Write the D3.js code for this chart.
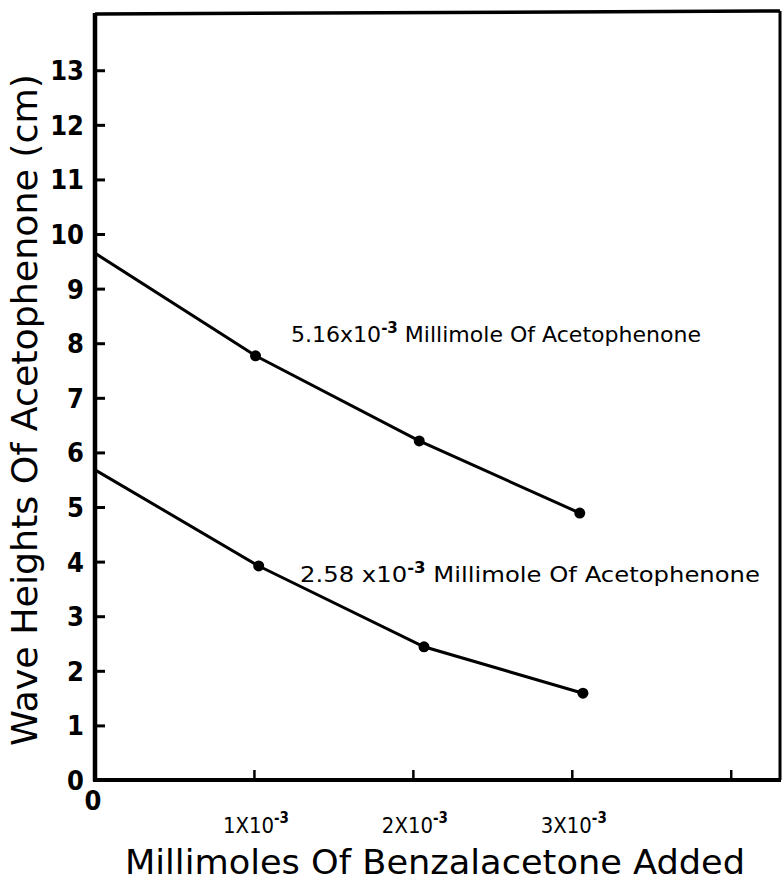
<!DOCTYPE html>
<html>
<head>
<meta charset="utf-8">
<script src="https://cdnjs.cloudflare.com/ajax/libs/d3/7.8.5/d3.min.js"></script>
<style>
  body { margin: 0; background: #fff; }
  svg { display: block; }
  text { font-family: "DejaVu Sans", sans-serif; fill: #000; }
</style>
</head>
<body>
<div id="chart"></div>
<script>
// Data (x in units of 10^-3 millimole benzalacetone, y in cm)
var upperX = [0, 1.01, 2.04, 3.05];
var upperY = [9.65, 7.77, 6.21, 4.89];
var lowerX = [0, 1.03, 2.07, 3.07];
var lowerY = [5.68, 3.92, 2.44, 1.59];

var yTicks = [0, 1, 2, 3, 4, 5, 6, 7, 8, 9, 10, 11, 12, 13];
var xTicks = [1, 2, 3, 4];
var xTickLabels = ['1X10', '2X10', '3X10'];

var upperLabel = ['5.16x10', '-3', ' Millimole Of Acetophenone'];
var lowerLabel = ['2.58 x10', '-3', ' Millimole Of Acetophenone'];

// Size
var width = 784;
var height = 882;
var plotLeft = 95, plotRight = 780, plotTop = 14, plotBottom = 780;

var svg = d3.select('#chart')
  .append('svg')
  .attr('width', width)
  .attr('height', height);

// Scales
var xScale = d3.scaleLinear().domain([0, 4.31]).range([plotLeft, plotRight]);
var yScale = d3.scaleLinear().domain([0, 14.03]).range([plotBottom, plotTop]);

// Frame
svg.append('line').attr('x1', plotLeft).attr('y1', plotTop).attr('x2', plotRight).attr('y2', plotTop - 3)
  .attr('stroke', '#000').attr('stroke-width', 3.5);
svg.append('line').attr('x1', plotRight).attr('y1', plotTop - 3).attr('x2', plotRight).attr('y2', plotBottom)
  .attr('stroke', '#000').attr('stroke-width', 3);
svg.append('line').attr('x1', plotLeft).attr('y1', plotTop - 1).attr('x2', plotLeft).attr('y2', plotBottom + 1)
  .attr('stroke', '#000').attr('stroke-width', 4.5);
svg.append('line').attr('x1', plotLeft - 2).attr('y1', plotBottom).attr('x2', plotRight + 1).attr('y2', plotBottom)
  .attr('stroke', '#000').attr('stroke-width', 4);

// Y ticks (inward) and labels
var yAxis = d3.axisRight(yScale)
  .tickValues(yTicks.slice(1))
  .tickSize(10)
  .tickFormat('');

svg.append('g')
  .attr('id', 'y-axis')
  .attr('transform', `translate(${plotLeft}, 0)`)
  .call(yAxis)
  .call((g) => g.select('.domain').remove())
  .call((g) => g.selectAll('.tick line').attr('stroke', '#000').attr('stroke-width', 3));

svg.selectAll('.ylabel')
  .data(yTicks)
  .enter().append('text')
  .attr('class', 'ylabel')
  .attr('x', 84)
  .attr('y', (d) => yScale(d) + 10)
  .attr('text-anchor', 'end')
  .style('font-size', '27px')
  .style('font-weight', 'bold')
  .style('font-family', '"DejaVu Sans Condensed", "DejaVu Sans", sans-serif')
  .text((d) => d);

// X ticks (inward) and labels
var xAxis = d3.axisTop(xScale)
  .tickValues(xTicks)
  .tickSize(10)
  .tickFormat('');

svg.append('g')
  .attr('id', 'x-axis')
  .attr('transform', `translate(0, ${plotBottom})`)
  .call(xAxis)
  .call((g) => g.select('.domain').remove())
  .call((g) => g.selectAll('.tick line').attr('stroke', '#000').attr('stroke-width', 2.5));

svg.append('text')
  .attr('x', xScale(0) - 2)
  .attr('y', 810)
  .attr('text-anchor', 'middle')
  .style('font-size', '27px')
  .style('font-weight', 'bold')
  .style('font-family', '"DejaVu Sans Condensed", "DejaVu Sans", sans-serif')
  .text('0');

var xl = svg.selectAll('.xlabel')
  .data(xTickLabels)
  .enter().append('text')
  .attr('class', 'xlabel')
  .attr('x', (d, i) => xScale(xTicks[i]) + 2)
  .attr('y', 833)
  .attr('text-anchor', 'middle')
  .attr('textLength', 66)
  .attr('lengthAdjust', 'spacingAndGlyphs')
  .style('font-size', '22px')
  .style('font-family', '"DejaVu Sans Condensed", "DejaVu Sans", sans-serif');
xl.append('tspan').text((d) => d);
xl.append('tspan').attr('dy', -10).style('font-size', '15px').style('font-weight', 'bold').text('-3');

// Axis titles
svg.append('text')
  .attr('transform', 'translate(37, 410) rotate(-90)')
  .attr('text-anchor', 'middle')
  .attr('textLength', 672)
  .attr('lengthAdjust', 'spacingAndGlyphs')
  .style('font-size', '35px')
  .text('Wave Heights Of Acetophenone (cm)');

svg.append('text')
  .attr('x', 435)
  .attr('y', 874)
  .attr('text-anchor', 'middle')
  .attr('textLength', 620)
  .attr('lengthAdjust', 'spacingAndGlyphs')
  .style('font-size', '33px')
  .text('Millimoles Of Benzalacetone Added');

// Lines and dots
var line = d3.line()
  .x((d) => xScale(d[0]))
  .y((d) => yScale(d[1]));

var series = [d3.zip(upperX, upperY), d3.zip(lowerX, lowerY)];

svg.selectAll('.series')
  .data(series)
  .enter().append('path')
  .attr('class', 'series')
  .attr('d', line)
  .attr('fill', 'none')
  .attr('stroke', '#000')
  .attr('stroke-width', 3);

svg.selectAll('.dotgroup')
  .data(series)
  .enter().append('g')
  .selectAll('circle')
  .data((d) => d.slice(1))
  .enter().append('circle')
  .attr('cx', (d) => xScale(d[0]))
  .attr('cy', (d) => yScale(d[1]))
  .attr('r', 5.5)
  .attr('fill', '#000');

// Curve labels
function curveLabel(parts, x, y, len) {
  var t = svg.append('text')
    .attr('x', x)
    .attr('y', y)
    .attr('textLength', len)
    .attr('lengthAdjust', 'spacingAndGlyphs')
    .style('font-size', '22px');
  t.append('tspan').text(parts[0]);
  t.append('tspan').attr('dy', -9).style('font-size', '15px').style('font-weight', 'bold').text(parts[1]);
  t.append('tspan').attr('dy', 9).text(parts[2]);
  return t;
}

curveLabel(upperLabel, 291, 342, 410);
curveLabel(lowerLabel, 300, 582, 460);
</script>
</body>
</html>
